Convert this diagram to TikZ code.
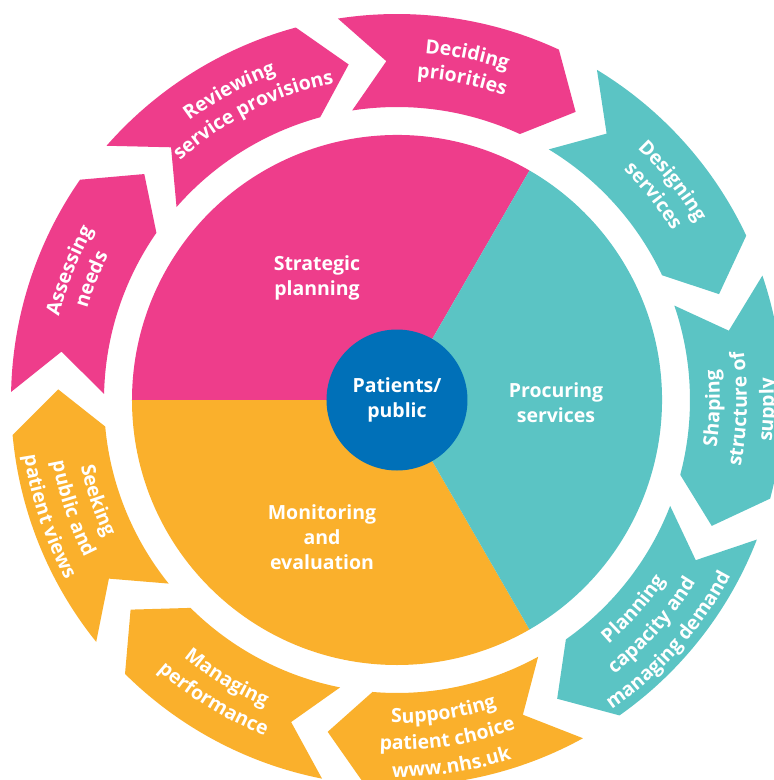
\documentclass[tikz,border=0pt]{standalone}
\usepackage{fontspec}
\setmainfont{Open Sans}
\usetikzlibrary{decorations.text}

\definecolor{cpink}{HTML}{EE3D8B}
\definecolor{cteal}{HTML}{5BC4C4}
\definecolor{corange}{HTML}{FAB02C}
\definecolor{cblue}{HTML}{0070B8}

% label lettering
\newcommand\lblfont{\fontsize{19.5}{25}\selectfont\bfseries}
\newcommand\ringfont{\fontsize{19.5}{25}\selectfont\bfseries\color{white}}

% one line of lettering bent along a ring arc, centred on angle #1, baseline radius #2
% clockwise: reads left to right over the top, tops outward
\newcommand\cwlabel[3]{\path[ringtext={#3}] ({#1+25}:#2) arc[start angle={#1+25}, end angle={#1-25}, radius=#2];}
% counter-clockwise: reads left to right under the bottom, tops inward
\newcommand\ccwlabel[3]{\path[ringtext={#3}] ({#1-25}:#2) arc[start angle={#1-25}, end angle={#1+25}, radius=#2];}

\begin{document}
\begin{tikzpicture}[x=1pt, y=1pt,
  ringtext/.style={decorate, decoration={text along path, text align=center, text={|\ringfont|#1}}},
  hub/.style={circle, fill=cblue, minimum size=141pt, inner sep=0pt, text=white, font=\lblfont, align=center},
  midlabel/.style={text=white, font=\lblfont, align=center, inner sep=0pt},
]
\clip (-397,-380) rectangle (377,400);
\fill[white] (-397,-380) rectangle (377,400);

% three planning sectors of the inner disc
\fill[cpink]   (0,0) -- (60:265)  arc[start angle=60,  end angle=180, radius=265] -- cycle;
\fill[corange] (0,0) -- (180:265) arc[start angle=180, end angle=300, radius=265] -- cycle;
\fill[cteal]   (0,0) -- (300:265) arc[start angle=300, end angle=420, radius=265] -- cycle;

% ring of nine curved chevrons running clockwise (\b = angle of the notched back end)
\foreach \b/\c in {98.8/cpink, 138.8/cpink, 178.8/cpink,
                   218.8/corange, 258.8/corange, 298.8/corange,
                   338.8/cteal, 18.8/cteal, 58.8/cteal}{
  \fill[\c] (\b:386) arc[start angle=\b, end angle=\b-33.6, radius=386]
    -- ({\b-40.6}:339) -- ({\b-33.6}:293)
    arc[start angle=\b-33.6, end angle=\b, radius=293]
    -- ({\b-7}:339) -- cycle;
}

% sector titles and hub
\node[midlabel] (strategic) at (-80,122) {Strategic\\planning};
\node[midlabel] (procuring) at (159,-2.5) {Procuring\\services};
\node[midlabel] (monitoring) at (-75,-137) {Monitoring\\and\\evaluation};
\node[hub] (hub) at (0,0) {Patients/\\public};

% chevron lettering
\begin{scope}[white]
  \cwlabel{78.5}{348}{Deciding}
  \cwlabel{78.5}{323}{priorities}
  \cwlabel{118.5}{348}{Reviewing}
  \cwlabel{116.7}{323}{service provisions}
  \cwlabel{158.5}{348}{Assessing}
  \cwlabel{158.5}{323}{needs}
  \cwlabel{38.5}{348}{Designing}
  \cwlabel{38.5}{323}{services}

  \ccwlabel{-1.5}{323}{Shaping}
  \ccwlabel{-1.5}{350}{structure of}
  \ccwlabel{-1.5}{377}{supply}
  \ccwlabel{318.5}{323}{Planning}
  \ccwlabel{318.5}{350}{capacity and}
  \ccwlabel{318.5}{377}{managing demand}
  \ccwlabel{278.5}{323}{Supporting}
  \ccwlabel{278.5}{350}{patient choice}
  \ccwlabel{278.5}{377}{www.nhs.uk}
  \ccwlabel{238.5}{334}{Managing}
  \ccwlabel{238.5}{361}{performance}
  \ccwlabel{198.5}{323}{Seeking}
  \ccwlabel{198.5}{350}{public and}
  \ccwlabel{198.5}{377}{patient views}
\end{scope}
\end{tikzpicture}
\end{document}
